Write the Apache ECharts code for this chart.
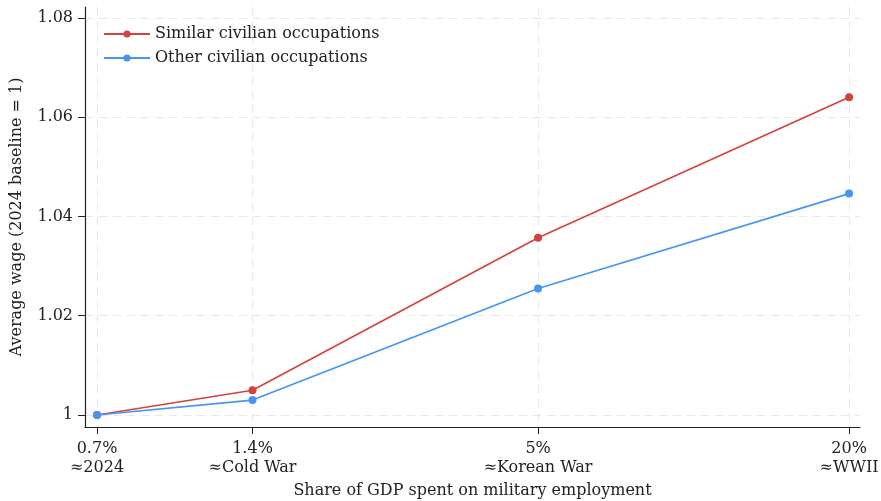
<!DOCTYPE html>
<html>
<head>
<meta charset="utf-8">
<script src="https://cdn.jsdelivr.net/npm/echarts@6/dist/echarts.min.js"></script>
<style>
  html, body { margin: 0; padding: 0; background: #fff; }
  #chart { width: 881px; height: 501px; }
</style>
</head>
<body>
<div id="chart"></div>
<script>
// share of GDP (x, log scale) and labels
const gdpShare = [0.7, 1.4, 5, 20];
const xLabels = ['0.7%\n≈2024', '1.4%\n≈Cold War', '5%\n≈Korean War', '20%\n≈WWII'];
// average wage relative to 2024
const similarWage = [1.000, 1.005, 1.0357, 1.0640];
const otherWage = [1.000, 1.003, 1.0255, 1.0446];
const yTicks = [1, 1.02, 1.04, 1.06, 1.08];

const serif = '"DejaVu Serif", "Liberation Serif", serif';
const red = '#d6413e';
const blue = '#4596f2';
const grid_line = { show: true, lineStyle: { color: '#e8e8e8', type: [8, 6], width: 1.2 } };

const chart = echarts.init(document.getElementById('chart'));

const option = {
  animation: false,
  textStyle: { fontFamily: serif },
  grid: { left: 85, right: 21, top: 7, bottom: 74, outerBoundsMode: 'none' },
  legend: {
    orient: 'vertical',
    left: 98, top: 21,
    itemWidth: 46, itemHeight: 9, itemGap: 8,
    textStyle: { fontFamily: serif, fontSize: 16, color: '#222' },
    data: ['Similar civilian occupations', 'Other civilian occupations']
  },
  xAxis: {
    type: 'log',
    min: 0.6635, max: 21.0,
    name: 'Share of GDP spent on military employment',
    nameLocation: 'middle', nameGap: 56,
    nameTextStyle: { fontFamily: serif, fontSize: 16, color: '#222' },
    axisLine: { lineStyle: { color: '#222', width: 1.2 } },
    axisTick: { length: 7, lineStyle: { color: '#222' }, customValues: gdpShare },
    axisLabel: {
      customValues: gdpShare,
      margin: 12, fontSize: 16, lineHeight: 19, color: '#222', fontFamily: serif,
      formatter: function (v) {
        let best = 0;
        gdpShare.forEach(function (g, i) { if (Math.abs(g - v) < Math.abs(gdpShare[best] - v)) best = i; });
        return xLabels[best];
      }
    },
    splitLine: grid_line
  },
  yAxis: {
    type: 'value',
    min: 0.99758, max: 1.0822,
    name: 'Average wage (2024 baseline = 1)',
    nameLocation: 'middle', nameGap: 60,
    nameTextStyle: { fontFamily: serif, fontSize: 16, color: '#222' },
    axisLine: { show: true, lineStyle: { color: '#222', width: 1.2 } },
    axisTick: { show: true, length: 7, lineStyle: { color: '#222' }, customValues: yTicks },
    axisLabel: {
      customValues: yTicks,
      margin: 12, fontSize: 16, color: '#222', fontFamily: serif,
      formatter: function (v) { return Math.abs(v - 1) < 1e-6 ? '1' : v.toFixed(2); }
    },
    splitLine: grid_line
  },
  series: [
    {
      name: 'Similar civilian occupations',
      type: 'line',
      data: gdpShare.map(function (x, i) { return [x, similarWage[i]]; }),
      symbol: 'circle', symbolSize: 8,
      itemStyle: { color: red },
      lineStyle: { color: red, width: 1.6 }
    },
    {
      name: 'Other civilian occupations',
      type: 'line',
      data: gdpShare.map(function (x, i) { return [x, otherWage[i]]; }),
      symbol: 'circle', symbolSize: 8,
      itemStyle: { color: blue },
      lineStyle: { color: blue, width: 1.6 }
    }
  ]
};
chart.setOption(option);
</script>
</body>
</html>
